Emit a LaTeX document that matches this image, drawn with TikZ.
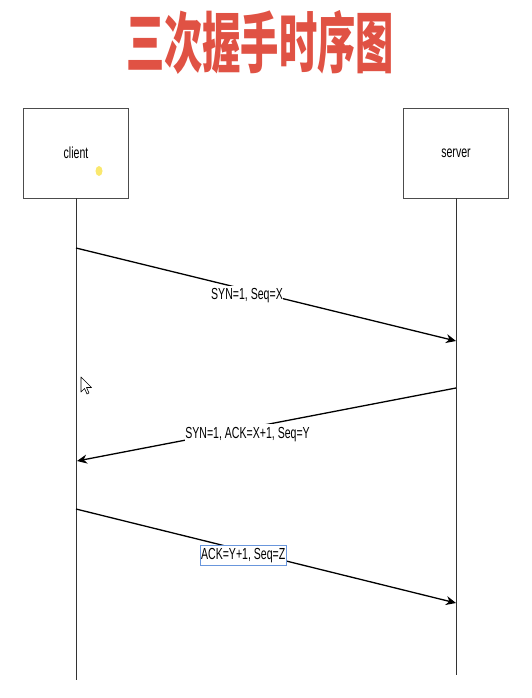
\documentclass[tikz,border=0pt]{standalone}
\usepackage{fontspec}
\setmainfont{Liberation Sans}
\newfontfamily\cjk{Noto Sans CJK SC}
\usetikzlibrary{arrows.meta}
\definecolor{titlered}{RGB}{224,82,68}
\definecolor{selblue}{RGB}{105,150,220}
\definecolor{dotyellow}{RGB}{250,232,110}
\begin{document}
\begin{tikzpicture}[x=1pt, y=-1pt,
    box/.style={draw=black!70, line width=0.9pt, minimum width=160pt, minimum height=90pt,
                font=\fontsize{16}{18}\selectfont, xscale=0.66},
    life/.style={draw=black!80, line width=1pt},
    msg/.style={-{Stealth[length=10pt,width=9pt]}, line width=1.3pt},
    lbl/.style={fill=white, inner xsep=1pt, inner ysep=3pt, font=\fontsize{16}{18}\selectfont, xscale=0.66}]

    \useasboundingbox (0,0) rectangle (531,698);

    % title
    \node (t) at (260,42) [xscale=0.58, text=titlered] {\cjk\bfseries\fontsize{66}{70}\selectfont 三次握手时序图};

    % participants
    \node (cl) at (76,153) [box] {client};
    \node (sv) at (456,153) [box] {server};
    \coordinate (cle) at (76,680);
    \coordinate (sve) at (456,675);
    \draw [life] (cl) -- (cle);
    \draw [life] (sv) -- (sve);

    % message ends
    \coordinate (c1) at (76,248);
    \coordinate (s1) at (456,341);
    \coordinate (s2) at (456,388);
    \coordinate (c2) at (77,461);
    \coordinate (c3) at (76,509);
    \coordinate (s3) at (456,603);

    \draw [msg] (c1) to node[lbl, pos=0.45, yshift=-6pt] {SYN=1, Seq=X} (s1);
    \draw [msg] (s2) to node[lbl, pos=0.55, yshift=-6pt] {SYN=1, ACK=X+1, Seq=Y} (c2);
    \draw [msg] (c3) to node[lbl, pos=0.44, yshift=-5pt, draw=selblue, line width=0.8pt] {ACK=Y+1, Seq=Z} (s3);

    % pointer marks
    \fill [dotyellow] (99,171) ellipse (3.5pt and 5pt);
    \draw [fill=white, line width=0.6pt, line join=round]
        (81,377) -- (81,392) -- (84.5,388.5) -- (87,394) -- (89,393) -- (86.5,387.5) -- (91.5,387.5) -- cycle;

\end{tikzpicture}
\end{document}
